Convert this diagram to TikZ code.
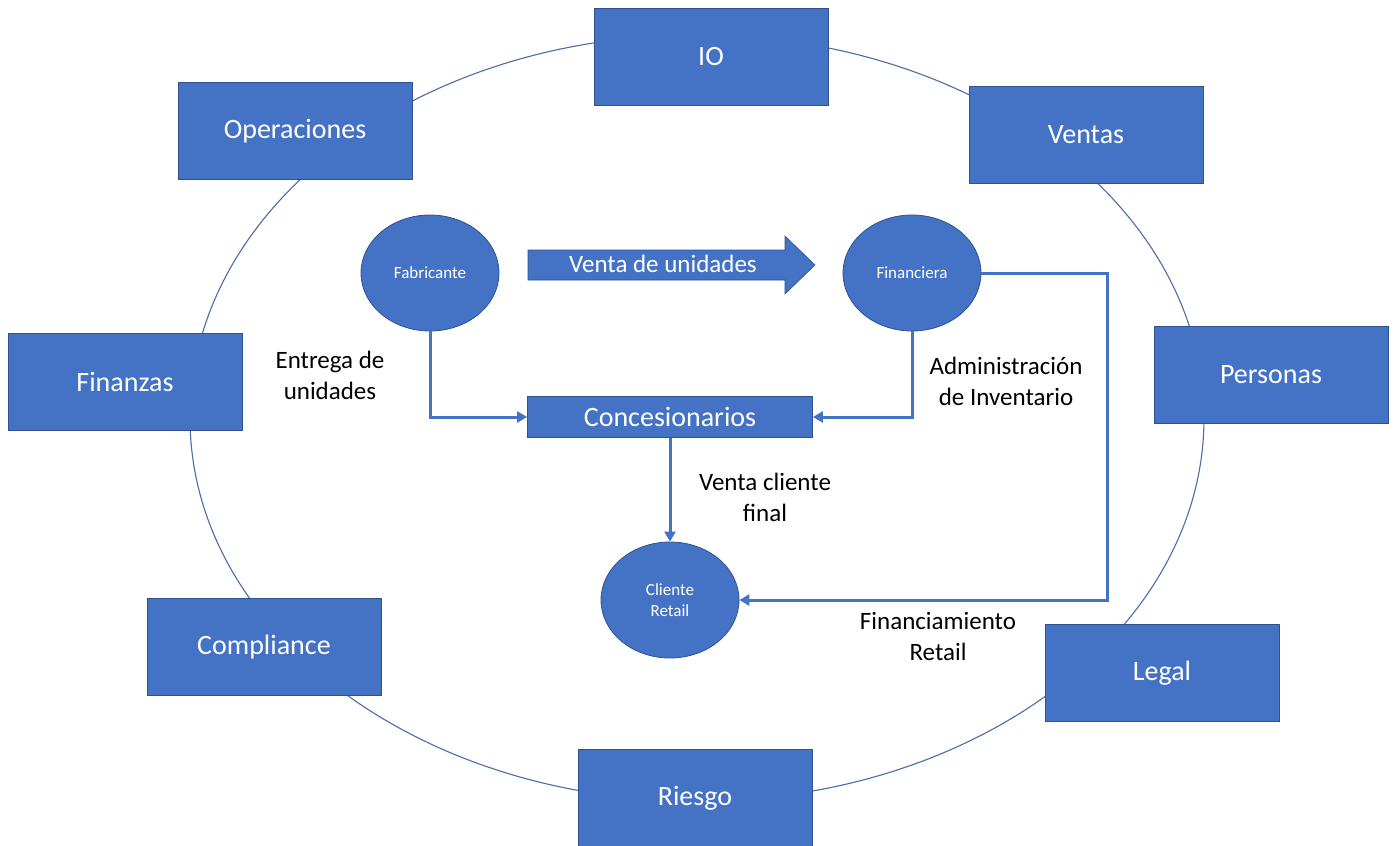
\documentclass[tikz,border=0pt]{standalone}
\usepackage{fontspec}
\setmainfont{Carlito}
\usetikzlibrary{shapes.geometric,arrows.meta}
\definecolor{boxblue}{HTML}{4472C4}
\definecolor{edgeblue}{HTML}{2F528F}
\definecolor{ringblue}{HTML}{4A6CA8}
\begin{document}
\begin{tikzpicture}[x=1pt,y=-1pt,
  area/.style={rectangle,draw=edgeblue,line width=0.8pt,fill=boxblue,
    minimum width=234pt,minimum height=97pt,inner sep=0pt,text=white,
    font=\fontsize{28}{34}\selectfont},
  party/.style={ellipse,draw=edgeblue,line width=0.8pt,fill=boxblue,
    minimum width=138pt,minimum height=116pt,inner sep=0pt,text=white,
    align=center,font=\fontsize{17}{21}\selectfont},
  hub/.style={rectangle,draw=edgeblue,line width=0.8pt,fill=boxblue,
    minimum width=285pt,minimum height=41pt,inner sep=0pt,text=white,
    font=\fontsize{28}{34}\selectfont},
  flow/.style={draw=boxblue,line width=3pt,-{Triangle[length=10pt,width=11pt]}},
  note/.style={align=center,text=black,font=\fontsize{25}{31}\selectfont},
]
\useasboundingbox (0,0) rectangle (1395,846);

% ring linking the business areas
\draw[ringblue,line width=1.1pt] (697,418) ellipse [x radius=507pt, y radius=383pt];

% business areas around the ring
\node[area] (io)   at (711,57)  {IO};
\node[area] (ops)  at (295,131) {Operaciones};
\node[area] (ven)  at (1086,135) {Ventas};
\node[area] (fnz)  at (125,382) {Finanzas};
\node[area] (per)  at (1271,375) {Personas};
\node[area] (cmp)  at (264,647) {Compliance};
\node[area] (leg)  at (1162,673) {Legal};
\node[area] (rsg)  at (695,798) {Riesgo};

% parties of the business flow
\node[party] (fab) at (430,273) {Fabricante};
\node[party] (fin) at (912,273) {Financiera};
\node[party] (cli) at (670,600) {Cliente\\Retail};
\node[hub]   (con) at (670,417) {Concesionarios};

% block arrow for the unit sale
\fill[boxblue,draw=edgeblue,line width=0.6pt]
  (528,250) -- (785,250) -- (785,236) -- (815,265) -- (785,294)
  -- (785,280) -- (528,280) -- cycle;
\node[text=white,font=\fontsize{25}{31}\selectfont] (vu) at (663,264) {Venta de unidades};

% flows
\coordinate (bend) at (1107,600);
\draw[flow] (fab.south) |- (con.west);
\draw[flow] (fin.south) |- (con.east);
\draw[flow] (con.south) -- (cli.north);
\draw[flow] (fin.east) -| (bend) -- (cli.east);

% flow labels
\node[note] (l1) at (330,375) {Entrega de\\unidades};
\node[note] (l2) at (1006,381) {Administración\\de Inventario};
\node[note] (l3) at (765,497) {Venta cliente\\final};
\node[note] (l4) at (938,636) {Financiamiento\\Retail};
\end{tikzpicture}
\end{document}
